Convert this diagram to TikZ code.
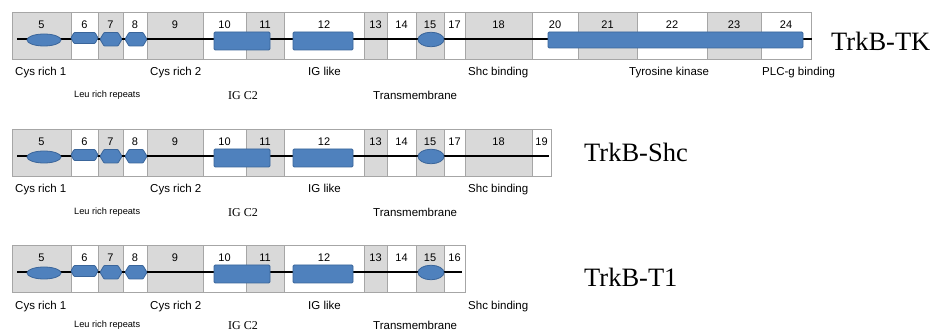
\documentclass[tikz,border=0pt]{standalone}
\usepackage{fontspec}
\setmainfont{Liberation Sans}
\newfontfamily\serifx{Liberation Serif}
\usetikzlibrary{shapes.geometric}
\definecolor{cellgray}{HTML}{D9D9D9}
\definecolor{cellline}{HTML}{A6A6A6}
\definecolor{dblue}{HTML}{4F81BD}
\definecolor{dblueline}{HTML}{3A659A}
\tikzset{
  cellbox/.style={draw=cellline, line width=0.8pt, minimum height=47pt, inner sep=0pt, anchor=north west},
  numlab/.style={font=\fontsize{11}{12}\selectfont, inner sep=0pt, anchor=base},
  domlab/.style={font=\fontsize{11.5}{13}\selectfont, anchor=base west, inner sep=0pt},
  smalllab/.style={font=\fontsize{9.2}{10}\selectfont, anchor=base west, inner sep=0pt},
  serlab/.style={font=\serifx\fontsize{12}{14}\selectfont, anchor=base west, inner sep=0pt},
  namelab/.style={font=\serifx\fontsize{26.5}{30}\selectfont, anchor=base west, inner sep=0pt},
  backbone/.style={line width=1.3pt, black},
  domshape/.style={fill=dblue, draw=dblueline, line width=0.8pt, inner sep=0pt},
  domrect/.style={domshape, rectangle, rounded corners=1.2pt},
  domell/.style={domshape, ellipse},
}
\newcommand\domcells[2]{%
  \foreach \xa/\xb/\n/\f in {#2}{%
    \node[cellbox, fill=\f, minimum width={(\xb-\xa)*1pt}] (#1\n) at (\xa,12) {};
    \node[numlab] (#1\n-n) at ({(\xa+\xb)/2},29) {\n};
  }%
}
\begin{document}
\begin{tikzpicture}[x=1pt,y=-1pt]
\useasboundingbox (0,0) rectangle (935,331);
% ---------- cells ----------
\foreach \r/\dy in {a/0,b/117,c/233}{
  \begin{scope}[shift={(0,\dy)}]
    \domcells{\r}{12/71/5/cellgray,71/98/6/white,98/123/7/cellgray,123/147/8/white,147/203/9/cellgray,203/246/10/white,246/284/11/cellgray,284/364/12/white,364/387/13/cellgray,387/416/14/white,416/444/15/cellgray}
  \end{scope}
}
\domcells{a}{444/465/17/white,465/532/18/cellgray,532/578/20/white,578/637/21/cellgray,637/707/22/white,707/761/23/cellgray,761/811/24/white}
\begin{scope}[shift={(0,117)}]
  \domcells{b}{444/465/17/white,465/532/18/cellgray,532/551/19/white}
\end{scope}
\begin{scope}[shift={(0,233)}]
  \domcells{c}{444/465/16/white}
\end{scope}
% ---------- backbones ----------
\coordinate (a-s) at (17,39);  \coordinate (a-e) at (812,39);
\coordinate (b-s) at (17,156); \coordinate (b-e) at (549,156);
\coordinate (c-s) at (17,272); \coordinate (c-e) at (462,272);
\draw[backbone] (a-s) -- (a-e);
\draw[backbone] (b-s) -- (b-e);
\draw[backbone] (c-s) -- (c-e);
% ---------- domains and labels ----------
\foreach \r/\dy/\dl in {a/0/0,b/117/0,c/233/-4}{
  \begin{scope}[shift={(0,\dy)}]
    \node[domell, minimum width=34pt, minimum height=12pt] (\r-d5) at (44,40) {};
    \draw[domshape, rounded corners=0.8pt] (71,38) -- (74,32.5) -- (95,32.5) -- (98,38) -- (95,43.5) -- (74,43.5) -- cycle;
    \draw[domshape, rounded corners=0.8pt] (100,39.3) -- (104,32.5) -- (118,32.5) -- (122,39.3) -- (118,46) -- (104,46) -- cycle;
    \draw[domshape, rounded corners=0.8pt] (125,39.3) -- (129,32.5) -- (143,32.5) -- (147,39.3) -- (143,46) -- (129,46) -- cycle;
    \node[domrect, minimum width=56pt, minimum height=18pt] (\r-d10) at (242,41) {};
    \node[domrect, minimum width=60pt, minimum height=18pt] (\r-d12) at (323,41) {};
    \node[domell, minimum width=26pt, minimum height=14.5pt] (\r-d15) at (431,39.5) {};
    \node[domlab] (\r-cys1) at (15,76) {Cys rich 1};
    \node[domlab] (\r-cys2) at (150,76) {Cys rich 2};
    \node[domlab] (\r-igl) at (308,76) {IG like};
    \node[domlab] (\r-shc) at (468,76) {Shc binding};
    \node[smalllab] (\r-leu) at (74,{98+\dl}) {Leu rich repeats};
    \node[serlab] (\r-igc) at (228,{100+\dl}) {IG C2};
    \node[domlab] (\r-tm) at (373,{100+\dl}) {Transmembrane};
  \end{scope}
}
\node[domrect, minimum width=255pt, minimum height=16pt] (a-d20) at (675.5,40) {};
\node[domlab] (a-tk) at (629,76) {Tyrosine kinase};
\node[domlab] (a-plc) at (762,76) {PLC-g binding};
% ---------- isoform names ----------
\node[namelab] (n-tk) at (831,51) {TrkB-TK};
\node[namelab] (n-shc) at (584,162) {TrkB-Shc};
\node[namelab] (n-t1) at (584,287) {TrkB-T1};
\end{tikzpicture}
\end{document}
